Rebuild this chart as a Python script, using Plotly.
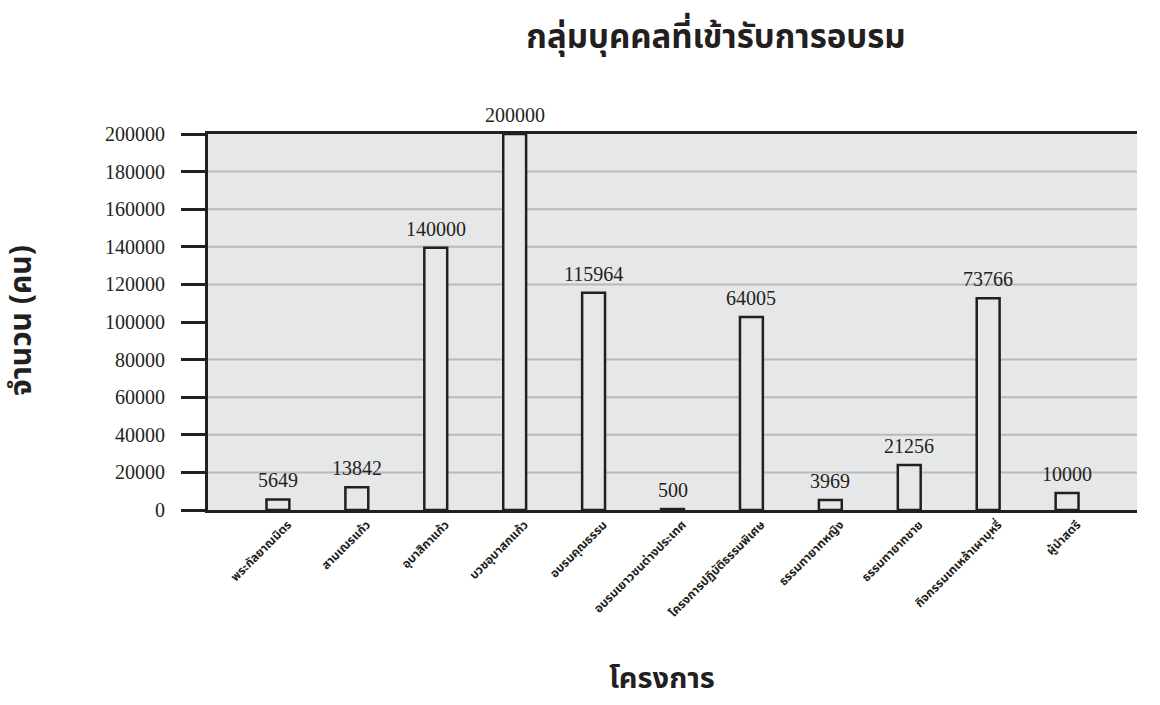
import plotly.graph_objects as go

# ---- data ----
categories = [
    "พระกัลยาณมิตร",
    "สามเณรแก้ว",
    "อุบาสิกาแก้ว",
    "บวชอุบาสกแก้ว",
    "อบรมคุณธรรม",
    "อบรมเยาวชนต่างประเทศ",
    "โครงการปฏิบัติธรรมพิเศษ",
    "ธรรมทายาทหญิง",
    "ธรรมทายาทชาย",
    "กิจกรรมเทเหล้าเผาบุหรี่",
    "ผู้นำสตรี",
]
# bar heights as drawn in the picture
bar_values = [5600, 12100, 139500, 200000, 115600, 500, 102700, 5300, 23900, 112600, 9000]
# numbers printed above the bars
bar_labels = ["5649", "13842", "140000", "200000", "115964", "500",
              "64005", "3969", "21256", "73766", "10000"]
y_ticks = [0, 20000, 40000, 60000, 80000, 100000, 120000, 140000, 160000, 180000, 200000]
grid_values = [20000, 40000, 60000, 80000, 120000, 140000, 160000, 180000]

title_text = "กลุ่มบุคคลที่เข้ารับการอบรม"
x_title = "โครงการ"
y_title = "จำนวน (คน)"

INK = "#231f20"
BG = "#e6e7e8"
THAI = "Noto Sans Thai, Noto Sans Thai UI, Loma, Garuda, Noto Sans, sans-serif"
SERIF = "Liberation Serif, Times New Roman, serif"

fig = go.Figure()
fig.add_trace(go.Bar(
    x=categories,
    y=bar_values,
    width=0.29,
    marker=dict(color=BG, line=dict(color=INK, width=2.5)),
    hoverinfo="skip",
))

# value labels above bars
for cat, val, lab in zip(categories, bar_values, bar_labels):
    fig.add_annotation(x=cat, y=val, text=lab, showarrow=False, xanchor="center",
                       yanchor="bottom", yshift=6,
                       font=dict(family=SERIF, size=20, color=INK))

for g in grid_values:
    fig.add_shape(type="line", xref="paper", yref="y", x0=0, x1=1, y0=g, y1=g,
                  line=dict(color="#b9b9bb", width=2), layer="below")

fig.add_annotation(text=x_title, xref="paper", yref="paper", x=(662 - 208) / 929,
                   y=(510 - 679) / 376, xanchor="center", yanchor="middle", showarrow=False,
                   font=dict(family=THAI, size=29, color=INK, weight="bold"))
fig.add_annotation(text=y_title, xref="paper", yref="paper", x=(22 - 208) / 929,
                   y=(510 - 321) / 376, xanchor="center", yanchor="middle", showarrow=False,
                   textangle=-90,
                   font=dict(family=THAI, size=30, color=INK, weight="bold"))

fig.update_layout(
    width=1160, height=705,
    margin=dict(l=208, r=23, t=134, b=195),
    paper_bgcolor="white",
    plot_bgcolor=BG,
    showlegend=False,
    title=dict(text=title_text, x=716 / 1160, xanchor="center", y=1 - 36 / 705,
               yanchor="middle", yref="container",
               font=dict(family=THAI, size=33, color=INK, weight="bold")),
    xaxis=dict(
        type="category", range=[-0.886, 10.886],
        showline=True, linecolor=INK, linewidth=3, mirror=True,
        showgrid=False, ticks="", tickangle=-45,
        ticklabelshift=10,
        tickfont=dict(family=THAI, size=12, color=INK, weight="bold"),
    ),
    yaxis=dict(
        range=[0, 200000], tickvals=y_ticks, ticktext=[str(v) for v in y_ticks],
        showline=True, linecolor=INK, linewidth=3,
        showgrid=False, zeroline=False,
        ticks="outside", ticklen=24, tickwidth=3, tickcolor=INK,
        ticklabelstandoff=12,
        tickfont=dict(family=SERIF, size=20, color=INK),
    ),
)

fig.write_html("out.html", config={"displayModeBar": False},
               post_script="document.body.style.margin='0';")
